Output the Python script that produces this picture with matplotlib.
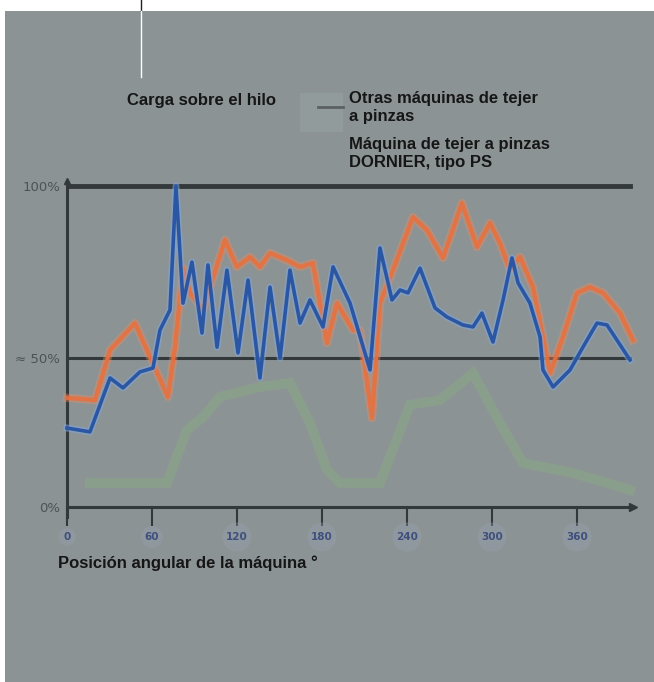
import matplotlib
matplotlib.use("Agg")
import matplotlib.pyplot as plt
from matplotlib.patches import Rectangle
from matplotlib.lines import Line2D

# posición angular (grados) y carga sobre el hilo (%)
dornier_x = [0, 16.2, 30.4, 39.5, 51.5, 60.7, 65.6, 72.7, 76.9, 81.9, 88.2, 95.3,
             99.5, 105.9, 112.9, 120.7, 127.8, 136.2, 143.3, 150.4, 157.4, 164.5,
             171.5, 180.7, 187.8, 199.8, 213.9, 220.9, 229.4, 235.1, 240.7, 249.2,
             259.8, 268.2, 279.5, 286.6, 292.9, 300.7, 307.8, 314.1, 318.4, 326.8,
             333.9, 336.0, 343.1, 355.1, 364.2, 374.1, 381.2, 397.4]
dornier_y = [24.6, 23.4, 40.2, 37.1, 42.1, 43.3, 55.1, 61.4, 100.0, 63.5, 76.3, 54.2,
             75.4, 49.8, 73.8, 48.0, 70.7, 40.2, 68.5, 46.4, 73.8, 57.3,
             64.5, 56.1, 74.8, 63.5, 42.7, 80.7, 64.5, 67.6, 66.7, 74.4,
             62.0, 59.2, 56.7, 56.1, 60.4, 51.4, 64.5, 77.6, 69.8, 63.5,
             53.0, 42.7, 37.4, 42.7, 49.8, 57.3, 56.7, 45.8]

otras_x = [0, 19.8, 30.4, 48.0, 58.6, 71.3, 76.2, 81.9, 86.8, 96.0, 111.5, 120.0,
           129.2, 136.2, 143.3, 155.3, 164.5, 173.6, 183.5, 190.6, 201.9, 206.8,
           215.3, 220.9, 230.1, 244.2, 254.1, 265.4, 278.8, 289.4, 298.6, 305.6,
           312.7, 319.8, 328.9, 336.0, 341.0, 350.1, 360.0, 369.2, 378.4, 390.4, 399.5]
otras_y = [34.0, 33.3, 48.9, 57.3, 46.7, 34.3, 49.8, 74.4, 66.7, 61.4, 83.2, 74.8,
           77.9, 74.8, 79.1, 76.9, 74.8, 76.0, 51.1, 63.5, 55.1, 55.1,
           27.7, 63.5, 73.8, 90.3, 86.3, 77.6, 94.7, 81.0, 88.5, 82.2,
           73.8, 77.9, 68.5, 53.0, 41.7, 53.0, 66.7, 68.5, 66.7, 60.4, 52.0]

verde_x = [16.2, 70.6, 84.7, 96.0, 108.0, 136.2, 157.4, 171.5, 183.5, 192.7, 220.9,
           242.1, 263.3, 286.6, 305.6, 321.9, 357.2, 381.2, 397.4]
verde_y = [7.5, 7.5, 24.0, 28.0, 34.3, 37.4, 38.6, 26.2, 11.5, 7.5, 7.5,
           31.8, 33.3, 41.7, 26.2, 13.7, 10.6, 7.5, 5.3]

xticks = [0, 60, 120, 180, 240, 300, 360]
yticks = [0, 46.4, 100]
ylabels = ["0%", "≈ 50%", "100%"]

W, H = 654, 682
fig = plt.figure(figsize=(W / 100, H / 100), dpi=100)
fig.patch.set_facecolor("white")
gris = "#8c9395"
fig.add_artist(Rectangle((5 / W, 0), 1, (H - 11) / H, transform=fig.transFigure,
                         facecolor=gris, edgecolor="none", zorder=0))
fig.add_artist(Line2D([141 / W, 141 / W], [(H - 11) / H, 1], transform=fig.transFigure,
                      color="#222222", lw=1))
fig.add_artist(Line2D([141 / W, 141 / W], [(H - 77) / H, (H - 11) / H],
                      transform=fig.transFigure, color="white", lw=1))

xmax = 566 * 60 / 85
ymax = 327 / 3.21
ax = fig.add_axes([67 / W, 175 / H, 566 / W, 327 / H])
ax.set_facecolor("none")
ax.set_xlim(0, xmax)
ax.set_ylim(0, ymax)
for s in ax.spines.values():
    s.set_visible(False)

oscuro = "#33383a"
ax.axhline(100, color=oscuro, lw=3.5, xmax=0.995, zorder=1)
ax.axhline(46.4, color=oscuro, lw=2.2, xmax=0.995, zorder=1)
ax.plot([0, xmax], [0, 0], color=oscuro, lw=2.2, clip_on=False, zorder=1)
ax.plot([0, 0], [-3.2, 101.5], color=oscuro, lw=2.2, clip_on=False, zorder=1)
ax.plot([xmax], [0], marker=">", ms=6, color=oscuro, clip_on=False)
ax.plot([0], [101.5], marker="^", ms=5, color=oscuro, clip_on=False)

ax.plot(verde_x, verde_y, color="#86d860", lw=7, alpha=0.17, solid_joinstyle="miter",
        clip_on=False, zorder=2)
ax.plot(otras_x, otras_y, color="#f08a5a", lw=6, alpha=0.4, clip_on=False, zorder=3)
ax.plot(otras_x, otras_y, color="#e8703f", lw=3, alpha=0.9, clip_on=False, zorder=3)
ax.plot(dornier_x, dornier_y, color="#7fa8dc", lw=5, alpha=0.55, clip_on=False, zorder=4)
ax.plot(dornier_x, dornier_y, color="#2b56a3", lw=2.6, clip_on=False, zorder=5)

ax.set_xticks(xticks)
ax.set_xticklabels([str(t) for t in xticks], color="#3f4f7e", fontsize=7.5,
                   fontweight="bold")
for lab in ax.get_xticklabels():
    lab.set_bbox(dict(boxstyle="circle,pad=0.35", fc="#9aa2b4", ec="none", alpha=0.35))
ax.tick_params(axis="x", direction="out", length=14, width=1.5, color=oscuro, pad=4)
ax.set_yticks(yticks)
ax.set_yticklabels(ylabels, color="#4c5355", fontsize=9.5)
ax.tick_params(axis="y", length=0, pad=5)

fuente = ["Liberation Sans", "DejaVu Sans"]
def texto(x, y, s):
    fig.text(x / W, 1 - y / H, s, ha="left", va="center", fontsize=12,
             fontweight="bold", color="#161616", family=fuente)

texto(127, 100, "Carga sobre el hilo")
texto(349, 98, "Otras máquinas de tejer")
texto(349, 117, "a pinzas")
texto(349, 145, "Máquina de tejer a pinzas")
texto(349, 163, "DORNIER, tipo PS")
texto(58, 563, "Posición angular de la máquina °")

fig.add_artist(Rectangle((300 / W, 1 - 132 / H), 43 / W, 39 / H, transform=fig.transFigure,
                         facecolor="#a3b0ac", edgecolor="none", alpha=0.3))
fig.add_artist(Line2D([318 / W, 343 / W], [1 - 107 / H, 1 - 107 / H],
                      transform=fig.transFigure, color="#5b6163", lw=2))

fig.savefig("out.png", dpi=100, facecolor=fig.get_facecolor())
